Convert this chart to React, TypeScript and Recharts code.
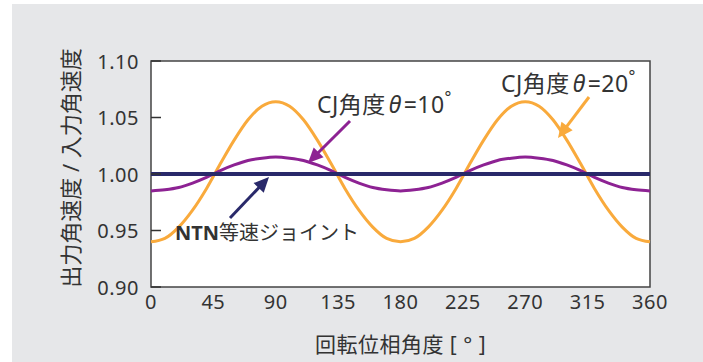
import { LineChart, Line, XAxis, YAxis, ReferenceArea } from "recharts";

const angles = [0, 10, 20, 30, 40, 50, 60, 70, 80, 90, 100, 110, 120, 130, 140, 150, 160, 170, 180, 190, 200, 210, 220, 230, 240, 250, 260, 270, 280, 290, 300, 310, 320, 330, 340, 350, 360];
const cj20 = [0.940, 0.943, 0.953, 0.968, 0.987, 1.009, 1.030, 1.048, 1.060, 1.064, 1.060, 1.048, 1.030, 1.009, 0.987, 0.968, 0.953, 0.943, 0.940, 0.943, 0.953, 0.968, 0.987, 1.009, 1.030, 1.048, 1.060, 1.064, 1.060, 1.048, 1.030, 1.009, 0.987, 0.968, 0.953, 0.943, 0.940];
const cj10 = [0.985, 0.986, 0.988, 0.992, 0.997, 1.003, 1.008, 1.012, 1.014, 1.015, 1.014, 1.012, 1.008, 1.003, 0.997, 0.992, 0.988, 0.986, 0.985, 0.986, 0.988, 0.992, 0.997, 1.003, 1.008, 1.012, 1.014, 1.015, 1.014, 1.012, 1.008, 1.003, 0.997, 0.992, 0.988, 0.986, 0.985];
const ntn = angles.map(() => 1.0);
const xTicks = [0, 45, 90, 135, 180, 225, 270, 315, 360];
const yTicks = [0.9, 0.95, 1.0, 1.05, 1.1];

const data = angles.map((a, i) => ({ angle: a, cj20: cj20[i], cj10: cj10[i], ntn: ntn[i] }));

const FONT = '"Noto Sans", "Noto Sans CJK JP", sans-serif';
const TEXT = "#333333";
const ORANGE = "#f9aa3c";
const PURPLE = "#8d2293";
const NAVY = "#29296a";

const YTick = (props: any) => {
  const { x, y, payload } = props;
  return (
    <g>
      <text x={x} y={y} textAnchor="end" dominantBaseline="central" fill={TEXT} fontSize={20} letterSpacing={0.5} fontFamily={FONT}>
        {Number(payload.value).toFixed(2)}
      </text>
      <line x1={x + 12} x2={x + 22} y1={y} y2={y} stroke="#333" strokeWidth={1.5} />
    </g>
  );
};

// arrow with a filled head at (x2, y2)
const Arrow = ({ x1, y1, x2, y2, color }: any) => {
  const dx = x2 - x1, dy = y2 - y1;
  const len = Math.sqrt(dx * dx + dy * dy);
  const ux = dx / len, uy = dy / len;
  const hl = 15, hw = 7;
  const bx = x2 - ux * hl, by = y2 - uy * hl;
  const pts = `${x2},${y2} ${bx - uy * hw},${by + ux * hw} ${bx + uy * hw},${by - ux * hw}`;
  return (
    <g>
      <line x1={x1} y1={y1} x2={bx + ux * 2} y2={by + uy * 2} stroke={color} strokeWidth={3} />
      <polygon points={pts} fill={color} />
    </g>
  );
};

export default function App() {
  return (
    <div style={{ position: "absolute", left: 0, top: 0, width: 703, height: 362, background: "#fff", fontFamily: FONT }}>
      <div style={{ position: "absolute", left: 12, top: 4, right: 0, bottom: 0, background: "#e6e7e9" }} />
      <div style={{ position: "absolute", left: 0, top: 0 }}>
        <LineChart width={703} height={362} data={data} margin={{ top: 61, right: 53, bottom: 0, left: 0 }}>
          <ReferenceArea x1={0} x2={360} y1={0.9} y2={1.1} fill="#ffffff" fillOpacity={1} stroke="#444" strokeWidth={1.5} />
          <XAxis
            dataKey="angle"
            type="number"
            domain={[0, 360]}
            ticks={xTicks}
            height={75}
            axisLine={false}
            tickLine={false}
            tickSize={0}
            tickMargin={8}
            tick={{ fill: TEXT, fontSize: 20, fontFamily: FONT, letterSpacing: 0.5 }}
            label={{ value: "回転位相角度 [ ° ]", position: "center", dy: 20, fill: TEXT, fontSize: 21, fontFamily: FONT, letterSpacing: 0.5 }}
          />
          <YAxis
            type="number"
            domain={[0.9, 1.1]}
            ticks={yTicks}
            width={151}
            axisLine={false}
            tickLine={false}
            tickSize={0}
            tickMargin={12}
            tick={<YTick />}
            label={{ value: "出力角速度 / 入力角速度", angle: -90, position: "center", dx: -4, dy: -6, fill: TEXT, fontSize: 22, fontFamily: FONT }}
          />
          <Line type="monotone" dataKey="cj20" stroke={ORANGE} strokeWidth={3} dot={false} isAnimationActive={false} />
          <Line type="monotone" dataKey="cj10" stroke={PURPLE} strokeWidth={3} dot={false} isAnimationActive={false} />
          <Line type="linear" dataKey="ntn" stroke={NAVY} strokeWidth={4} dot={false} isAnimationActive={false} />
        </LineChart>
      </div>
      <svg width={703} height={362} style={{ position: "absolute", left: 0, top: 0, pointerEvents: "none" }} fontFamily={FONT}>
        <Arrow x1={350} y1={121} x2={308} y2={163} color={PURPLE} />
        <Arrow x1={589} y1={97} x2={558} y2={138} color={ORANGE} />
        <Arrow x1={230} y1={218} x2={269} y2={177} color={NAVY} />
        <text x={317} y={104} dominantBaseline="central" fontSize={23} fill={TEXT} letterSpacing={0.5}>
          CJ角度<tspan fontStyle="italic" dx={3}>θ</tspan><tspan dx={2}>=10</tspan><tspan fontSize={16} dy={-7}>°</tspan>
        </text>
        <text x={501} y={83} dominantBaseline="central" fontSize={23} fill={TEXT} letterSpacing={0.5}>
          CJ角度<tspan fontStyle="italic" dx={3}>θ</tspan><tspan dx={2}>=20</tspan><tspan fontSize={16} dy={-7}>°</tspan>
        </text>
        <text x={175} y={232} dominantBaseline="central" fontSize={20} fill={TEXT}>
          <tspan fontWeight="bold">NTN</tspan>等速ジョイント
        </text>
      </svg>
    </div>
  );
}
